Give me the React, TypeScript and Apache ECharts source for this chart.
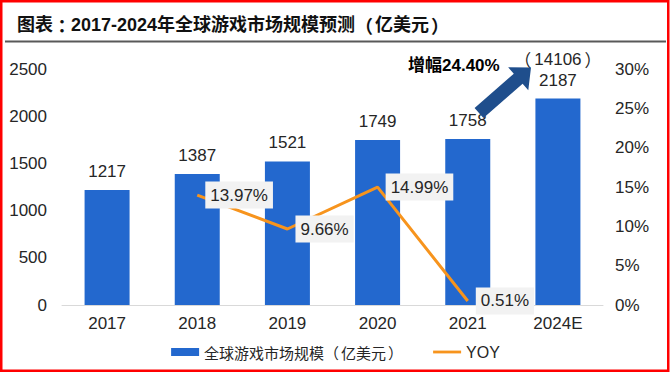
import React, { useEffect, useRef } from "react";
import * as echarts from "echarts";

const TITLE = "图表：2017-2024年全球游戏市场规模预测（亿美元）";
const categories = ["2017", "2018", "2019", "2020", "2021", "2024E"];
const marketSize = [1217, 1387, 1521, 1749, 1758, 2187];
const yoy: (number | null)[] = [null, 13.97, 9.66, 14.99, 0.51, null];
const leftTicks = { min: 0, max: 2500, interval: 500 };
const rightTicks = { min: 0, max: 30, interval: 5 };
const forecastUsd = "14106";
const growthText = "增幅24.40%";
const barName = "全球游戏市场规模（亿美元）";
const lineName = "YOY";

const NUM_FONT = "'Liberation Sans', Arial, 'Noto Sans CJK SC', sans-serif";
const CJK_FONT = "'Noto Sans CJK SC', sans-serif";
const PUNCT_FONT = "'Noto Sans CJK TC', 'Noto Sans CJK SC', sans-serif";
const ORANGE = "#F7941D";
const BLUE = "#2368CE";

// wrap full-width punctuation in rich tokens so its spacing looks like the reference font
const punct = (s: string) =>
  s.replace(/（/g, "{tl|（}").replace(/）/g, "{tr|）}").replace(/：/g, "{tc|：}");

function punctRich(base: any, pad: number) {
  return {
    tl: { ...base, fontFamily: CJK_FONT, padding: [0, pad, 0, 0] },
    tr: { ...base, fontFamily: CJK_FONT, padding: [0, 0, 0, pad] },
    tc: { ...base, fontFamily: PUNCT_FONT },
  };
}

function arrowPoints(tx: number, ty: number, px: number, py: number, shaftHalf: number, headHalf: number, headLen: number) {
  const dx = px - tx, dy = py - ty;
  const L = Math.sqrt(dx * dx + dy * dy);
  const ux = dx / L, uy = dy / L;
  const nx = -uy, ny = ux;
  const bx = px - ux * headLen, by = py - uy * headLen;
  return [
    [tx - nx * shaftHalf, ty - ny * shaftHalf],
    [bx - nx * shaftHalf, by - ny * shaftHalf],
    [bx - nx * headHalf, by - ny * headHalf],
    [px, py],
    [bx + nx * headHalf, by + ny * headHalf],
    [bx + nx * shaftHalf, by + ny * shaftHalf],
    [tx + nx * shaftHalf, ty + ny * shaftHalf],
  ];
}

export default function App() {
  const ref = useRef<HTMLDivElement>(null);
  useEffect(() => {
    if (!ref.current) return;
    const chart = echarts.init(ref.current, null, { renderer: "svg" });
    const last = marketSize.length - 1;
    chart.setOption({
      animation: false,
      backgroundColor: "#ffffff",
      textStyle: { fontFamily: NUM_FONT },
      grid: { left: 62, right: 68, top: 69, bottom: 69, containLabel: false },
      legend: {
        bottom: 9,
        left: "center",
        itemWidth: 28,
        itemHeight: 8,
        itemGap: 30,
        formatter: (name: string) => punct(name),
        textStyle: {
          fontSize: 15,
          color: "#262626",
          fontFamily: CJK_FONT,
          rich: punctRich({ fontSize: 15, color: "#262626" }, 2),
        },
        data: [
          { name: barName, icon: "rect", itemStyle: { color: BLUE } },
          {
            name: lineName,
            icon: "path://M0,0M0,8M0,2.6H28V5.4H0Z",
            itemStyle: { color: ORANGE },
            textStyle: { fontFamily: NUM_FONT, fontSize: 16 },
          },
        ],
      },
      xAxis: {
        type: "category",
        data: categories,
        axisLine: { show: true, lineStyle: { color: "#d9d9d9", width: 1 } },
        axisTick: { show: false },
        axisLabel: { fontSize: 17, color: "#262626", margin: 10 },
      },
      yAxis: [
        {
          type: "value",
          ...leftTicks,
          splitLine: { show: false },
          axisLine: { show: false },
          axisTick: { show: false },
          axisLabel: { fontSize: 17, color: "#262626", margin: 15, formatter: (v: number) => String(v) },
        },
        {
          type: "value",
          ...rightTicks,
          splitLine: { show: false },
          axisLine: { show: false },
          axisTick: { show: false },
          axisLabel: { fontSize: 17, color: "#262626", margin: 12, formatter: (v: number) => `${v}%` },
        },
      ],
      series: [
        {
          name: barName,
          type: "bar",
          barWidth: 45,
          itemStyle: { color: BLUE },
          data: marketSize,
          label: {
            show: true,
            position: "top",
            distance: 8,
            fontSize: 17,
            lineHeight: 21,
            color: "#262626",
            formatter: (p: any) =>
              p.dataIndex === last
                ? `${punct("（")}{p|${forecastUsd}}${punct("）")}\n${p.value}`
                : `${p.value}`,
            rich: {
              p: { fontSize: 17, lineHeight: 21, color: "#262626", fontFamily: NUM_FONT },
              ...punctRich({ fontSize: 17, lineHeight: 21, color: "#262626" }, 3),
            },
          },
        },
        {
          name: lineName,
          type: "line",
          yAxisIndex: 1,
          data: yoy,
          symbol: "circle",
          symbolSize: 0.1,
          showSymbol: true,
          connectNulls: false,
          lineStyle: { color: ORANGE, width: 3 },
          itemStyle: { color: ORANGE },
          z: 5,
          label: {
            show: true,
            position: "right",
            distance: 8,
            fontSize: 17,
            lineHeight: 17,
            color: "#262626",
            backgroundColor: "#F2F2F2",
            padding: [5, 5],
            formatter: (p: any) => (p.value == null ? "" : `${Number(p.value).toFixed(2)}%`),
          },
        },
      ],
      graphic: [
        {
          type: "rect",
          shape: { x: 1.25, y: 1.25, width: 667, height: 369.5 },
          style: { fill: "none", stroke: "#FF0000", lineWidth: 2.5 },
          z: 100,
        },
        {
          type: "text",
          x: 17,
          y: 25,
          style: {
            text: punct(TITLE),
            fontSize: 18,
            fontWeight: "bold",
            fontFamily: NUM_FONT,
            fill: "#111111",
            verticalAlign: "middle",
            rich: punctRich({ fontSize: 18, fontWeight: "bold", fill: "#111111" }, 2),
          },
        },
        {
          type: "line",
          shape: { x1: 5, y1: 41.5, x2: 666, y2: 41.5 },
          style: { stroke: "#595959", lineWidth: 2 },
        },
        {
          type: "polygon",
          shape: { points: arrowPoints(479, 113, 531, 67.5, 6.7, 15.3, 17) },
          style: { fill: "#1F4E8C" },
          z: 50,
        },
        {
          type: "text",
          x: 408,
          y: 65,
          style: {
            text: growthText,
            fontSize: 17,
            fontWeight: "bold",
            fontFamily: NUM_FONT,
            fill: "#000000",
            verticalAlign: "middle",
          },
          z: 50,
        },
      ],
    });
    return () => chart.dispose();
  }, []);
  return (
    <div
      ref={ref}
      style={{ position: "absolute", left: 0, top: 0, width: 671, height: 374 }}
    />
  );
}
